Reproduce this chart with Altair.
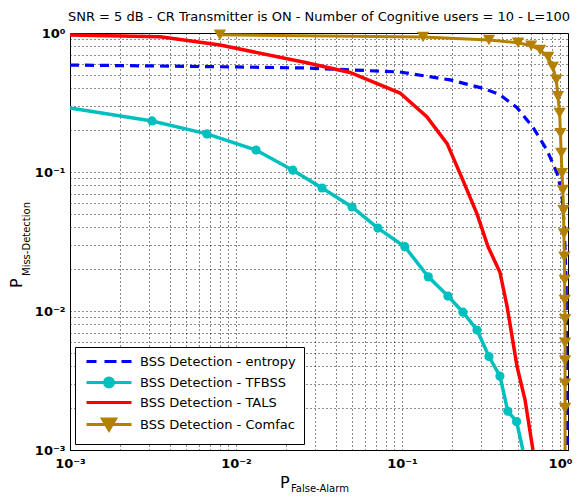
import altair as alt
import pandas as pd

chart_title = "SNR = 5 dB - CR Transmitter is ON - Number of Cognitive users = 10 - L=100"
x_title_main, x_title_sub = "P", "False-Alarm"
y_title_main, y_title_sub = "P", "Miss-Detection"

series_names = [
    "BSS Detection - entropy",
    "BSS Detection - TFBSS",
    "BSS Detection - TALS",
    "BSS Detection - Comfac",
]
series_colors = ["#0000FF", "#00BFBF", "#FF0000", "#B38000"]

entropy_pfa = [0.001, 0.003, 0.01, 0.0267, 0.097, 0.195, 0.308, 0.389, 0.493, 0.615, 0.746, 0.859, 0.92, 0.95, 0.975, 0.99]
entropy_pmd = [0.588, 0.58, 0.57, 0.56, 0.524, 0.46, 0.40, 0.36, 0.29, 0.21, 0.144, 0.098, 0.07, 0.04, 0.016, 0.001]

tfbss_pfa = [0.001, 0.00312, 0.00668, 0.0132, 0.022, 0.033, 0.05, 0.0716, 0.104, 0.144, 0.189, 0.233, 0.283, 0.334, 0.389, 0.434, 0.49, 0.535]
tfbss_pmd = [0.289, 0.233, 0.188, 0.144, 0.103, 0.0767, 0.056, 0.0395, 0.029, 0.0176, 0.0128, 0.0098, 0.0073, 0.0047, 0.0034, 0.0019, 0.0016, 0.001]

tals_pfa = [0.001, 0.00349, 0.00802, 0.0267, 0.0486, 0.0973, 0.141, 0.187, 0.233, 0.283, 0.330, 0.389, 0.430, 0.493, 0.551, 0.615]
tals_pmd = [0.967, 0.94, 0.82, 0.61, 0.52, 0.37, 0.25, 0.16, 0.087, 0.05, 0.029, 0.019, 0.0107, 0.004, 0.0023, 0.001]

comfac_pfa = [0.008, 0.134, 0.334, 0.5, 0.6, 0.68, 0.76, 0.81, 0.85, 0.87, 0.89, 0.9, 0.91, 0.92, 0.93, 0.94, 0.945, 0.95, 0.955, 0.955, 0.96, 0.96, 0.96, 0.96, 0.96, 0.96]
comfac_pmd = [0.97, 0.936, 0.89, 0.85, 0.81, 0.755, 0.67, 0.57, 0.46, 0.35, 0.266, 0.19, 0.137, 0.098, 0.074, 0.053, 0.036, 0.0245, 0.0167, 0.012, 0.0087, 0.0059, 0.0044, 0.003, 0.002, 0.001]

tick_values = [m * 10.0 ** e for e in (-3, -2, -1) for m in range(1, 10)] + [1.0]
label_expr = ("datum.value == 1 ? '10\u2070' : datum.value == 0.1 ? '10\u207b\u00b9' : "
              "datum.value == 0.01 ? '10\u207b\u00b2' : datum.value == 0.001 ? '10\u207b\u00b3' : ''")

# legend sample glyphs (custom symbol paths)
legend_paths = [
    "M-0.6,0H1.4M3,0H5.4M6.4,0H8.4",
    "M-0.6,0H8.4M3,0a0.9,0.9 0 1,0 1.8,0a0.9,0.9 0 1,0 -1.8,0Z",
    "M-0.6,0H8.4",
    "M-0.6,0H8.4M2.6,-1.1L5.2,-1.1L3.9,1.1Z",
]


def frame(pfa, pmd, name):
    n = len(pfa)
    return pd.DataFrame({"pfa": pfa, "pmd": pmd, "i": list(range(n)), "series": name,
                         "edge": [k == 0 or k == n - 1 for k in range(n)]})


df_entropy = frame(entropy_pfa, entropy_pmd, series_names[0])
df_tfbss = frame(tfbss_pfa, tfbss_pmd, series_names[1])
df_tals = frame(tals_pfa, tals_pmd, series_names[2])
df_comfac = frame(comfac_pfa, comfac_pmd, series_names[3])

xscale = alt.Scale(type="log", domain=[0.001, 1], nice=False)
yscale = alt.Scale(type="log", domain=[0.001, 1], nice=False)

axis_common = dict(values=tick_values, labelExpr=label_expr, grid=True, gridDash=[1, 3],
                   gridColor="black", gridOpacity=0.9, gridWidth=1, ticks=False,
                   domainColor="black", domainWidth=1, labelFont="DejaVu Sans",
                   labelFontWeight="bold", labelFontSize=13, labelColor="black",
                   labelOverlap=False, labelFlush=False, title=None)

X = alt.X("pfa:Q", scale=xscale, axis=alt.Axis(
    labelPadding=7,
    labelOffset={"condition": {"test": "datum.value == 1", "value": -8}, "value": 0},
    **axis_common))
Y = alt.Y("pmd:Q", scale=yscale, axis=alt.Axis(labelPadding=5, **axis_common))

entropy_line = alt.Chart(df_entropy).mark_line(color=series_colors[0], strokeWidth=3.2,
                                               strokeDash=[9, 6]).encode(x=X, y=Y, order="i:Q")
tfbss_line = alt.Chart(df_tfbss).mark_line(color=series_colors[1], strokeWidth=3.5).encode(x=X, y=Y, order="i:Q")
tfbss_pts = alt.Chart(df_tfbss).transform_filter("!datum.edge").mark_point(
    shape="circle", filled=True, size=85, color=series_colors[1], opacity=1).encode(x=X, y=Y)
tals_line = alt.Chart(df_tals).mark_line(color=series_colors[2], strokeWidth=3.5).encode(x=X, y=Y, order="i:Q")
comfac_line = alt.Chart(df_comfac).mark_line(color=series_colors[3], strokeWidth=3).encode(x=X, y=Y, order="i:Q")
comfac_pts = alt.Chart(df_comfac).transform_filter("datum.i < %d" % (len(comfac_pfa) - 1)).mark_point(
    shape="triangle-down", filled=True, size=150, color=series_colors[3], opacity=1).encode(x=X, y=Y)

legend_df = pd.DataFrame({"series": series_names})
legend_layer = alt.Chart(legend_df).transform_filter("false").mark_point(opacity=1, size=100).encode(
    fill=alt.Fill("series:N", scale=alt.Scale(domain=series_names, range=series_colors), title=None,
                  legend=alt.Legend(orient="none", legendX=5, legendY=314, title=None)),
    stroke=alt.Stroke("series:N", scale=alt.Scale(domain=series_names, range=series_colors), title=None),
    shape=alt.Shape("series:N", scale=alt.Scale(domain=series_names, range=legend_paths), title=None),
)

one = alt.Data(values=[{}])
xt_main = alt.Chart(one).mark_text(text=x_title_main, font="DejaVu Sans", fontSize=16, align="left",
                                   baseline="alphabetic", color="black").encode(x=alt.value(210), y=alt.value(455))
xt_sub = alt.Chart(one).mark_text(text=x_title_sub, font="DejaVu Sans", fontSize=10, align="left",
                                  baseline="alphabetic", color="black").encode(x=alt.value(221), y=alt.value(459))
yt_main = alt.Chart(one).mark_text(text=y_title_main, font="DejaVu Sans", fontSize=16, align="left",
                                   baseline="alphabetic", angle=270, color="black").encode(x=alt.value(-48), y=alt.value(255))
yt_sub = alt.Chart(one).mark_text(text=y_title_sub, font="DejaVu Sans", fontSize=10, align="left",
                                  baseline="alphabetic", angle=270, color="black").encode(x=alt.value(-40), y=alt.value(243))

chart = alt.layer(
    entropy_line, tfbss_line, tals_line, comfac_line, tfbss_pts, comfac_pts,
    legend_layer, xt_main, xt_sub, yt_main, yt_sub,
).properties(
    width=498, height=417,
    title=alt.TitleParams(chart_title, font="DejaVu Sans", fontSize=13, fontWeight="normal",
                          color="black", offset=3, anchor="middle"),
    autosize=alt.AutoSizeParams(type="none"),
    padding={"left": 62, "top": 25, "right": 6, "bottom": 44},
).configure_view(stroke="black", strokeWidth=1).configure_legend(
    symbolSize=100, symbolStrokeWidth=3, labelOffset=44, labelFont="DejaVu Sans", labelFontSize=13,
    labelColor="black", strokeColor="black", fillColor="white", padding=8, rowPadding=3,
    symbolOpacity=1, labelLimit=300, cornerRadius=0,
)

chart.save("out.html", embed_options={"renderer": "svg", "actions": False})
